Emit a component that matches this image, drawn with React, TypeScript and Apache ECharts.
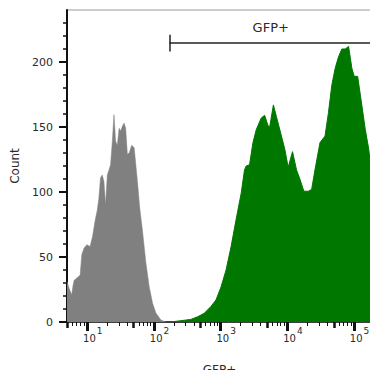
import { useEffect, useRef } from "react";
import * as echarts from "echarts";

// Negative / control population (gray)
const grayIntensity = [5.0, 5.45, 5.89, 6.16, 6.38, 7.08, 7.86, 8.34, 9.03, 9.92, 11.1, 12.1, 13.2, 14.2, 15.0, 15.9, 16.9, 17.9, 18.9, 20.1, 21.3, 22.5, 23.9, 25.3, 26.8, 28.4, 30.2, 31.9, 33.8, 35.9, 37.9, 40.2, 42.7, 46.7, 50.8, 56.9, 61.5, 67.8, 76.0, 85.5, 95.9, 107.6, 128, 152];
const grayCount = [31, 25, 21, 28, 32, 34, 36, 52, 57, 59.5, 58, 66, 78, 86, 95, 111, 113, 108, 90, 113, 117, 121, 139, 159.5, 139, 136, 149, 147, 150.5, 153, 149, 129, 130, 136, 134, 108, 88, 70, 46, 27, 14.5, 7, 1.5, 0];

// GFP+ population (green)
const greenIntensity = [179, 254, 359, 454, 571, 720, 857, 1020, 1213, 1443, 1717, 2044, 2292, 2431, 2727, 3069, 3442, 4095, 4592, 5168, 5464, 6215, 6897, 8206, 9204, 10356, 12025, 13818, 15502, 17812, 20757, 23276, 26102, 31058, 36950, 41580, 46650, 52310, 58880, 66010, 74060, 83340, 93460, 101200, 113900, 132300, 148400, 167000, 187300, 200000];
const greenCount = [0, 1, 2, 4, 6.7, 12, 17, 27, 40, 58, 79, 99, 117, 120, 121, 138, 148, 157, 159, 151, 150, 167, 158, 143, 133, 119, 131, 117, 110, 100.6, 100.6, 102, 117, 138, 143, 161, 182, 195, 204, 210, 210, 212, 195, 189, 189, 166, 148, 133, 110, 95];

// Axes
const xMin = 5;
const xMax = 187000;
const yMax = 240;
const xMajorTicks = [10, 100, 1000, 10000, 100000];
const xHalfTicks = [5, 50, 500, 5000, 50000];
const xMinorTicks = [6, 7, 8, 9, 20, 30, 40, 60, 70, 80, 90, 200, 300, 400, 600, 700, 800, 900, 2000, 3000, 4000, 6000, 7000, 8000, 9000, 20000, 30000, 40000, 60000, 70000, 80000, 90000];
const yMajorTicks = [0, 50, 100, 150, 200];
const yMinorTicks = [10, 20, 30, 40, 60, 70, 80, 90, 110, 120, 130, 140, 160, 170, 180, 190, 210, 220, 230];

// Gate
const gateName = "GFP+";
const gateStart = 172;
const gateLevel = 215;
const gateCapLow = 208;
const gateCapHigh = 221;

const FONT = "'DejaVu Sans', 'Open Sans', sans-serif";
const TEXT = "#2a2a2a";
const AXIS = "#111";
const GRAY = "#808080";
const GREEN = "#007800";

export default function App() {
  const ref = useRef<HTMLDivElement>(null);

  useEffect(() => {
    if (!ref.current) return;
    const chart = echarts.init(ref.current, undefined, { renderer: "svg" });

    const baseX: any = {
      type: "log",
      logBase: 10,
      min: xMin,
      max: xMax,
      position: "bottom",
      gridIndex: 0,
      splitLine: { show: false },
      axisLine: { show: false },
      axisLabel: { show: false },
    };
    const baseY: any = {
      type: "value",
      min: 0,
      max: yMax,
      position: "left",
      gridIndex: 0,
      splitLine: { show: false },
      axisLine: { show: false },
      axisLabel: { show: false },
    };

    const option: any = {
      animation: false,
      grid: {
        left: 67,
        top: 10,
        right: -2,
        bottom: 48,
        containLabel: false,
        outerBoundsMode: "none",
        show: true,
        borderColor: "#9a9a9a",
        borderWidth: 1,
      },
      xAxis: [
        {
          ...baseX,
          axisLine: { show: true, onZero: false, lineStyle: { color: AXIS, width: 1.5 } },
          axisTick: { show: true, customValues: xMajorTicks, length: 9, lineStyle: { color: AXIS, width: 3 } },
          axisLabel: {
            show: true,
            customValues: xMajorTicks,
            align: "left",
            margin: 10,
            padding: [0, 0, 0, -4],
            formatter: (v: number) => `{b|10}{s|${Math.round(Math.log10(v))}}`,
            rich: {
              b: { fontSize: 10, color: TEXT, fontFamily: FONT, lineHeight: 13 },
              s: { fontSize: 9, color: TEXT, fontFamily: FONT, lineHeight: 13, padding: [0, 0, 15, 1] },
            },
          },
          name: "GFP+",
          nameLocation: "middle",
          nameGap: 42,
          nameTextStyle: { fontSize: 12, color: TEXT, fontFamily: FONT },
        },
        {
          ...baseX,
          axisTick: { show: true, customValues: xHalfTicks, length: 6, lineStyle: { color: AXIS, width: 2.5 } },
        },
        {
          ...baseX,
          axisTick: { show: true, customValues: xMinorTicks, length: 4, lineStyle: { color: AXIS, width: 1 } },
        },
      ],
      yAxis: [
        {
          ...baseY,
          axisLine: { show: true, onZero: false, lineStyle: { color: AXIS, width: 2 } },
          axisTick: { show: true, customValues: yMajorTicks, length: 8, lineStyle: { color: AXIS, width: 2 } },
          axisLabel: {
            show: true,
            customValues: yMajorTicks,
            margin: 14,
            fontSize: 11,
            color: TEXT,
            fontFamily: FONT,
          },
          name: "Count",
          nameLocation: "middle",
          nameRotate: 90,
          nameGap: 41,
          nameTextStyle: { fontSize: 12, color: TEXT, fontFamily: FONT },
        },
        {
          ...baseY,
          axisTick: { show: true, customValues: yMinorTicks, length: 4, lineStyle: { color: AXIS, width: 1.5 } },
        },
      ],
      series: [
        {
          type: "line",
          xAxisIndex: 0,
          yAxisIndex: 0,
          data: grayIntensity.map((x, i) => [x, grayCount[i]]),
          symbol: "none",
          showSymbol: false,
          lineStyle: { color: GRAY, width: 0.5 },
          areaStyle: { color: GRAY, opacity: 1 },
          z: 2,
          silent: true,
        },
        {
          type: "line",
          xAxisIndex: 0,
          yAxisIndex: 0,
          data: greenIntensity.map((x, i) => [x, greenCount[i]]),
          symbol: "none",
          showSymbol: false,
          lineStyle: { color: GREEN, width: 1 },
          areaStyle: { color: GREEN, opacity: 1 },
          z: 3,
          silent: true,
          markLine: {
            silent: true,
            symbol: ["none", "none"],
            lineStyle: { color: "#222", width: 1.5, type: "solid" },
            label: {
              show: true,
              position: "insideMiddleTop",
              distance: 9,
              formatter: (p: any) => (p.dataIndex === 0 ? gateName : ""),
              fontSize: 13,
              color: TEXT,
              fontFamily: FONT,
            },
            data: [
              [{ coord: [gateStart, gateLevel] }, { coord: [xMax, gateLevel] }],
              [{ coord: [gateStart, gateCapLow] }, { coord: [gateStart, gateCapHigh] }],
            ],
          },
        },
      ],
    };

    chart.setOption(option);
    return () => chart.dispose();
  }, []);

  return (
    <div
      ref={ref}
      style={{ position: "absolute", left: 0, top: 0, width: 370, height: 370, background: "#fff" }}
    />
  );
}
